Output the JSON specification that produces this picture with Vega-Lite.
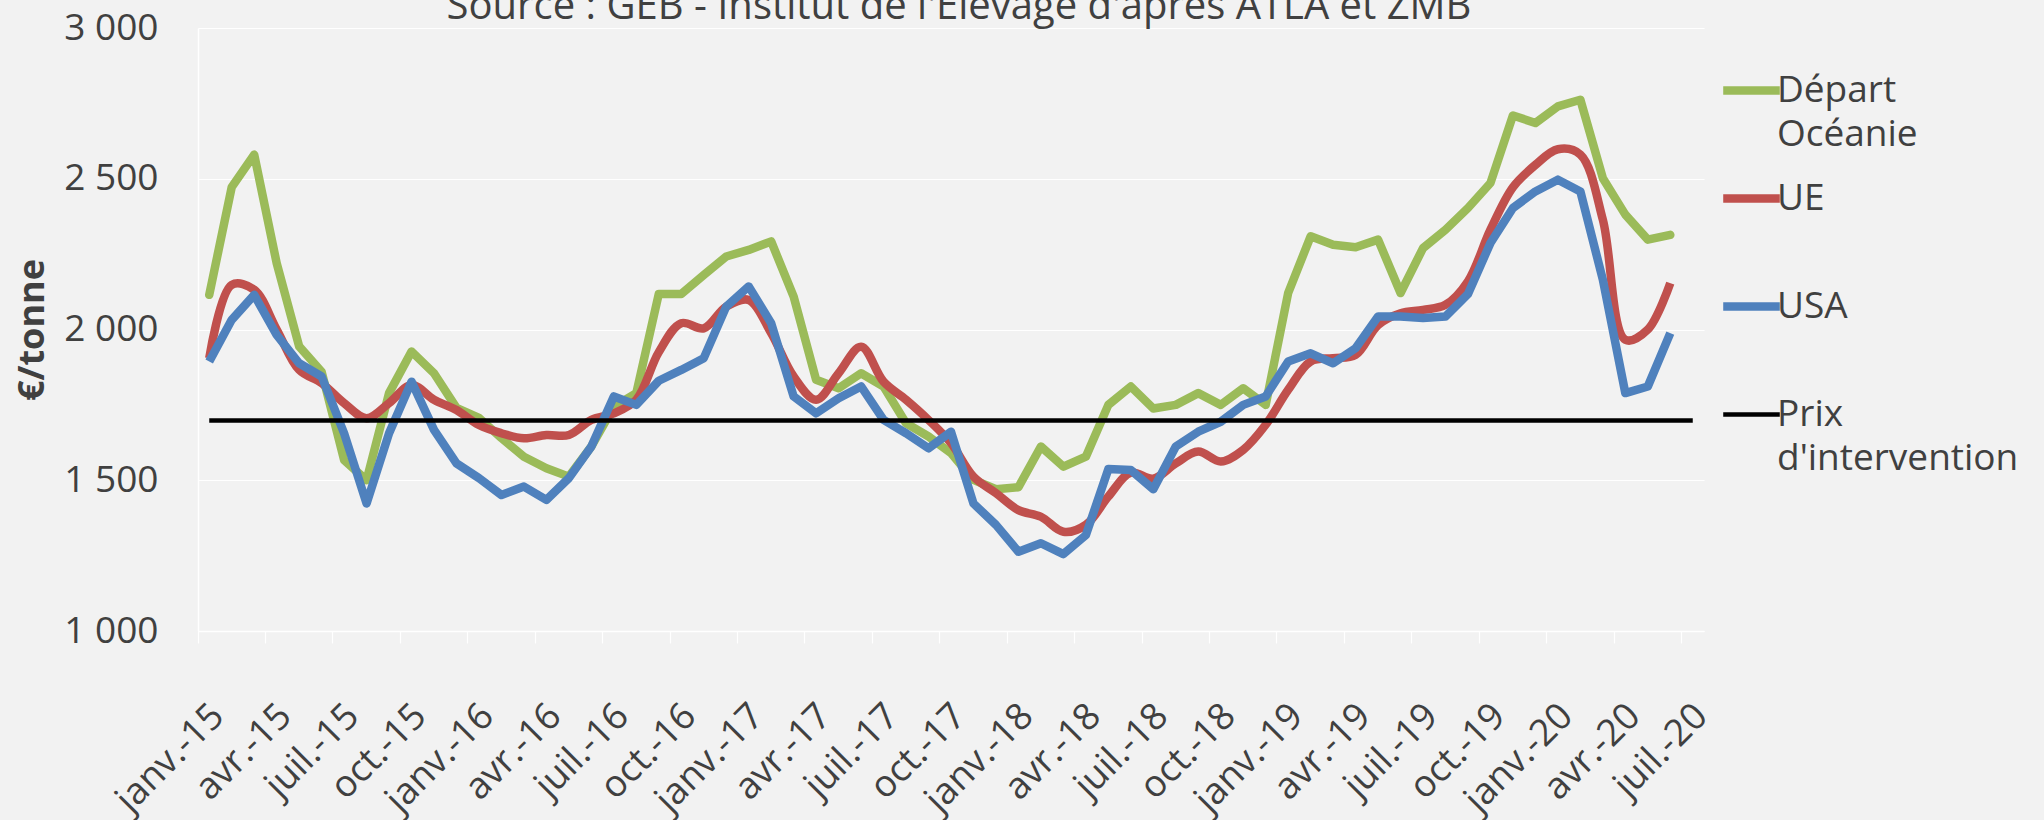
{
"$schema": "https://vega.github.io/schema/vega-lite/v6.json",
"width": 1506, "height": 603,
"autosize": {"type": "none"},
"padding": {"left": 198, "top": 28, "right": 340, "bottom": 189},
"background": "#F2F2F2",
"title": {"text": "Source : GEB - Institut de l'Elevage d'après  ATLA et ZMB", "anchor": "middle", "frame": "group", "fontSize": 40, "font": "Open Sans", "fontWeight": "normal", "color": "#404040", "baseline": "alphabetic", "offset": 6, "dx": 8, "dy": 56},
"config": {"view": {"stroke": null}, "font": "Open Sans"},
"data": {"values": [
{"mois":"janv.-15","serie":"Départ Océanie","prix":2115},{"mois":"févr.-15","serie":"Départ Océanie","prix":2472},{"mois":"mars-15","serie":"Départ Océanie","prix":2580},{"mois":"avr.-15","serie":"Départ Océanie","prix":2220},{"mois":"mai-15","serie":"Départ Océanie","prix":1944},{"mois":"juin-15","serie":"Départ Océanie","prix":1860},{"mois":"juil.-15","serie":"Départ Océanie","prix":1567},{"mois":"août-15","serie":"Départ Océanie","prix":1500},{"mois":"sept.-15","serie":"Départ Océanie","prix":1789},{"mois":"oct.-15","serie":"Départ Océanie","prix":1927},{"mois":"nov.-15","serie":"Départ Océanie","prix":1855},{"mois":"déc.-15","serie":"Départ Océanie","prix":1740},
{"mois":"janv.-16","serie":"Départ Océanie","prix":1707},{"mois":"févr.-16","serie":"Départ Océanie","prix":1640},{"mois":"mars-16","serie":"Départ Océanie","prix":1578},{"mois":"avr.-16","serie":"Départ Océanie","prix":1540},{"mois":"mai-16","serie":"Départ Océanie","prix":1512},{"mois":"juin-16","serie":"Départ Océanie","prix":1612},{"mois":"juil.-16","serie":"Départ Océanie","prix":1744},{"mois":"août-16","serie":"Départ Océanie","prix":1789},{"mois":"sept.-16","serie":"Départ Océanie","prix":2118},{"mois":"oct.-16","serie":"Départ Océanie","prix":2118},{"mois":"nov.-16","serie":"Départ Océanie","prix":2181},{"mois":"déc.-16","serie":"Départ Océanie","prix":2242},
{"mois":"janv.-17","serie":"Départ Océanie","prix":2264},{"mois":"févr.-17","serie":"Départ Océanie","prix":2292},{"mois":"mars-17","serie":"Départ Océanie","prix":2109},{"mois":"avr.-17","serie":"Départ Océanie","prix":1833},{"mois":"mai-17","serie":"Départ Océanie","prix":1805},{"mois":"juin-17","serie":"Départ Océanie","prix":1855},{"mois":"juil.-17","serie":"Départ Océanie","prix":1811},{"mois":"août-17","serie":"Départ Océanie","prix":1689},{"mois":"sept.-17","serie":"Départ Océanie","prix":1645},{"mois":"oct.-17","serie":"Départ Océanie","prix":1590},{"mois":"nov.-17","serie":"Départ Océanie","prix":1501},{"mois":"déc.-17","serie":"Départ Océanie","prix":1470},
{"mois":"janv.-18","serie":"Départ Océanie","prix":1477},{"mois":"févr.-18","serie":"Départ Océanie","prix":1612},{"mois":"mars-18","serie":"Départ Océanie","prix":1545},{"mois":"avr.-18","serie":"Départ Océanie","prix":1578},{"mois":"mai-18","serie":"Départ Océanie","prix":1750},{"mois":"juin-18","serie":"Départ Océanie","prix":1811},{"mois":"juil.-18","serie":"Départ Océanie","prix":1738},{"mois":"août-18","serie":"Départ Océanie","prix":1750},{"mois":"sept.-18","serie":"Départ Océanie","prix":1789},{"mois":"oct.-18","serie":"Départ Océanie","prix":1750},{"mois":"nov.-18","serie":"Départ Océanie","prix":1805},{"mois":"déc.-18","serie":"Départ Océanie","prix":1750},
{"mois":"janv.-19","serie":"Départ Océanie","prix":2121},{"mois":"févr.-19","serie":"Départ Océanie","prix":2309},{"mois":"mars-19","serie":"Départ Océanie","prix":2281},{"mois":"avr.-19","serie":"Départ Océanie","prix":2273},{"mois":"mai-19","serie":"Départ Océanie","prix":2298},{"mois":"juin-19","serie":"Départ Océanie","prix":2121},{"mois":"juil.-19","serie":"Départ Océanie","prix":2270},{"mois":"août-19","serie":"Départ Océanie","prix":2331},{"mois":"sept.-19","serie":"Départ Océanie","prix":2403},{"mois":"oct.-19","serie":"Départ Océanie","prix":2486},{"mois":"nov.-19","serie":"Départ Océanie","prix":2710},{"mois":"déc.-19","serie":"Départ Océanie","prix":2685},
{"mois":"janv.-20","serie":"Départ Océanie","prix":2740},{"mois":"févr.-20","serie":"Départ Océanie","prix":2762},{"mois":"mars-20","serie":"Départ Océanie","prix":2502},{"mois":"avr.-20","serie":"Départ Océanie","prix":2381},{"mois":"mai-20","serie":"Départ Océanie","prix":2298},{"mois":"juin-20","serie":"Départ Océanie","prix":2314},
{"mois":"janv.-15","serie":"UE","prix":1905},{"mois":"févr.-15","serie":"UE","prix":2148},{"mois":"mars-15","serie":"UE","prix":2132},{"mois":"avr.-15","serie":"UE","prix":2000},{"mois":"mai-15","serie":"UE","prix":1866},{"mois":"juin-15","serie":"UE","prix":1822},{"mois":"juil.-15","serie":"UE","prix":1756},{"mois":"août-15","serie":"UE","prix":1706},{"mois":"sept.-15","serie":"UE","prix":1756},{"mois":"oct.-15","serie":"UE","prix":1816},{"mois":"nov.-15","serie":"UE","prix":1767},{"mois":"déc.-15","serie":"UE","prix":1733},
{"mois":"janv.-16","serie":"UE","prix":1683},{"mois":"févr.-16","serie":"UE","prix":1656},{"mois":"mars-16","serie":"UE","prix":1639},{"mois":"avr.-16","serie":"UE","prix":1650},{"mois":"mai-16","serie":"UE","prix":1650},{"mois":"juin-16","serie":"UE","prix":1700},{"mois":"juil.-16","serie":"UE","prix":1722},{"mois":"août-16","serie":"UE","prix":1767},{"mois":"sept.-16","serie":"UE","prix":1925},{"mois":"oct.-16","serie":"UE","prix":2021},{"mois":"nov.-16","serie":"UE","prix":2004},{"mois":"déc.-16","serie":"UE","prix":2076},
{"mois":"janv.-17","serie":"UE","prix":2098},{"mois":"févr.-17","serie":"UE","prix":1988},{"mois":"mars-17","serie":"UE","prix":1844},{"mois":"avr.-17","serie":"UE","prix":1767},{"mois":"mai-17","serie":"UE","prix":1855},{"mois":"juin-17","serie":"UE","prix":1943},{"mois":"juil.-17","serie":"UE","prix":1827},{"mois":"août-17","serie":"UE","prix":1767},{"mois":"sept.-17","serie":"UE","prix":1700},{"mois":"oct.-17","serie":"UE","prix":1623},{"mois":"nov.-17","serie":"UE","prix":1512},{"mois":"déc.-17","serie":"UE","prix":1457},
{"mois":"janv.-18","serie":"UE","prix":1401},{"mois":"févr.-18","serie":"UE","prix":1379},{"mois":"mars-18","serie":"UE","prix":1329},{"mois":"avr.-18","serie":"UE","prix":1352},{"mois":"mai-18","serie":"UE","prix":1446},{"mois":"juin-18","serie":"UE","prix":1525},{"mois":"juil.-18","serie":"UE","prix":1505},{"mois":"août-18","serie":"UE","prix":1556},{"mois":"sept.-18","serie":"UE","prix":1595},{"mois":"oct.-18","serie":"UE","prix":1562},{"mois":"nov.-18","serie":"UE","prix":1601},{"mois":"déc.-18","serie":"UE","prix":1684},
{"mois":"janv.-19","serie":"UE","prix":1800},{"mois":"févr.-19","serie":"UE","prix":1894},{"mois":"mars-19","serie":"UE","prix":1905},{"mois":"avr.-19","serie":"UE","prix":1916},{"mois":"mai-19","serie":"UE","prix":2015},{"mois":"juin-19","serie":"UE","prix":2054},{"mois":"juil.-19","serie":"UE","prix":2065},{"mois":"août-19","serie":"UE","prix":2082},{"mois":"sept.-19","serie":"UE","prix":2160},{"mois":"oct.-19","serie":"UE","prix":2331},{"mois":"nov.-19","serie":"UE","prix":2472},{"mois":"déc.-19","serie":"UE","prix":2546},
{"mois":"janv.-20","serie":"UE","prix":2598},{"mois":"févr.-20","serie":"UE","prix":2580},{"mois":"mars-20","serie":"UE","prix":2364},{"mois":"avr.-20","serie":"UE","prix":1966},{"mois":"mai-20","serie":"UE","prix":2000},{"mois":"juin-20","serie":"UE","prix":2154},
{"mois":"janv.-15","serie":"USA","prix":1894},{"mois":"févr.-15","serie":"USA","prix":2032},{"mois":"mars-15","serie":"USA","prix":2115},{"mois":"avr.-15","serie":"USA","prix":1982},{"mois":"mai-15","serie":"USA","prix":1888},{"mois":"juin-15","serie":"USA","prix":1844},{"mois":"juil.-15","serie":"USA","prix":1656},{"mois":"août-15","serie":"USA","prix":1423},{"mois":"sept.-15","serie":"USA","prix":1656},{"mois":"oct.-15","serie":"USA","prix":1827},{"mois":"nov.-15","serie":"USA","prix":1667},{"mois":"déc.-15","serie":"USA","prix":1556},
{"mois":"janv.-16","serie":"USA","prix":1507},{"mois":"févr.-16","serie":"USA","prix":1451},{"mois":"mars-16","serie":"USA","prix":1479},{"mois":"avr.-16","serie":"USA","prix":1435},{"mois":"mai-16","serie":"USA","prix":1507},{"mois":"juin-16","serie":"USA","prix":1612},{"mois":"juil.-16","serie":"USA","prix":1778},{"mois":"août-16","serie":"USA","prix":1750},{"mois":"sept.-16","serie":"USA","prix":1830},{"mois":"oct.-16","serie":"USA","prix":1866},{"mois":"nov.-16","serie":"USA","prix":1905},{"mois":"déc.-16","serie":"USA","prix":2076},
{"mois":"janv.-17","serie":"USA","prix":2143},{"mois":"févr.-17","serie":"USA","prix":2021},{"mois":"mars-17","serie":"USA","prix":1778},{"mois":"avr.-17","serie":"USA","prix":1722},{"mois":"mai-17","serie":"USA","prix":1772},{"mois":"juin-17","serie":"USA","prix":1811},{"mois":"juil.-17","serie":"USA","prix":1700},{"mois":"août-17","serie":"USA","prix":1656},{"mois":"sept.-17","serie":"USA","prix":1606},{"mois":"oct.-17","serie":"USA","prix":1661},{"mois":"nov.-17","serie":"USA","prix":1423},{"mois":"déc.-17","serie":"USA","prix":1352},
{"mois":"janv.-18","serie":"USA","prix":1263},{"mois":"févr.-18","serie":"USA","prix":1291},{"mois":"mars-18","serie":"USA","prix":1255},{"mois":"avr.-18","serie":"USA","prix":1318},{"mois":"mai-18","serie":"USA","prix":1537},{"mois":"juin-18","serie":"USA","prix":1534},{"mois":"juil.-18","serie":"USA","prix":1470},{"mois":"août-18","serie":"USA","prix":1612},{"mois":"sept.-18","serie":"USA","prix":1661},{"mois":"oct.-18","serie":"USA","prix":1694},{"mois":"nov.-18","serie":"USA","prix":1750},{"mois":"déc.-18","serie":"USA","prix":1778},
{"mois":"janv.-19","serie":"USA","prix":1894},{"mois":"févr.-19","serie":"USA","prix":1921},{"mois":"mars-19","serie":"USA","prix":1888},{"mois":"avr.-19","serie":"USA","prix":1938},{"mois":"mai-19","serie":"USA","prix":2043},{"mois":"juin-19","serie":"USA","prix":2043},{"mois":"juil.-19","serie":"USA","prix":2038},{"mois":"août-19","serie":"USA","prix":2043},{"mois":"sept.-19","serie":"USA","prix":2118},{"mois":"oct.-19","serie":"USA","prix":2287},{"mois":"nov.-19","serie":"USA","prix":2403},{"mois":"déc.-19","serie":"USA","prix":2458},
{"mois":"janv.-20","serie":"USA","prix":2497},{"mois":"févr.-20","serie":"USA","prix":2458},{"mois":"mars-20","serie":"USA","prix":2165},{"mois":"avr.-20","serie":"USA","prix":1789},{"mois":"mai-20","serie":"USA","prix":1811},{"mois":"juin-20","serie":"USA","prix":1988},
{"mois":"janv.-15","serie":"Prix d'intervention","prix":1698},{"mois":"févr.-15","serie":"Prix d'intervention","prix":1698},{"mois":"mars-15","serie":"Prix d'intervention","prix":1698},{"mois":"avr.-15","serie":"Prix d'intervention","prix":1698},{"mois":"mai-15","serie":"Prix d'intervention","prix":1698},{"mois":"juin-15","serie":"Prix d'intervention","prix":1698},{"mois":"juil.-15","serie":"Prix d'intervention","prix":1698},{"mois":"août-15","serie":"Prix d'intervention","prix":1698},{"mois":"sept.-15","serie":"Prix d'intervention","prix":1698},{"mois":"oct.-15","serie":"Prix d'intervention","prix":1698},{"mois":"nov.-15","serie":"Prix d'intervention","prix":1698},{"mois":"déc.-15","serie":"Prix d'intervention","prix":1698},
{"mois":"janv.-16","serie":"Prix d'intervention","prix":1698},{"mois":"févr.-16","serie":"Prix d'intervention","prix":1698},{"mois":"mars-16","serie":"Prix d'intervention","prix":1698},{"mois":"avr.-16","serie":"Prix d'intervention","prix":1698},{"mois":"mai-16","serie":"Prix d'intervention","prix":1698},{"mois":"juin-16","serie":"Prix d'intervention","prix":1698},{"mois":"juil.-16","serie":"Prix d'intervention","prix":1698},{"mois":"août-16","serie":"Prix d'intervention","prix":1698},{"mois":"sept.-16","serie":"Prix d'intervention","prix":1698},{"mois":"oct.-16","serie":"Prix d'intervention","prix":1698},{"mois":"nov.-16","serie":"Prix d'intervention","prix":1698},{"mois":"déc.-16","serie":"Prix d'intervention","prix":1698},
{"mois":"janv.-17","serie":"Prix d'intervention","prix":1698},{"mois":"févr.-17","serie":"Prix d'intervention","prix":1698},{"mois":"mars-17","serie":"Prix d'intervention","prix":1698},{"mois":"avr.-17","serie":"Prix d'intervention","prix":1698},{"mois":"mai-17","serie":"Prix d'intervention","prix":1698},{"mois":"juin-17","serie":"Prix d'intervention","prix":1698},{"mois":"juil.-17","serie":"Prix d'intervention","prix":1698},{"mois":"août-17","serie":"Prix d'intervention","prix":1698},{"mois":"sept.-17","serie":"Prix d'intervention","prix":1698},{"mois":"oct.-17","serie":"Prix d'intervention","prix":1698},{"mois":"nov.-17","serie":"Prix d'intervention","prix":1698},{"mois":"déc.-17","serie":"Prix d'intervention","prix":1698},
{"mois":"janv.-18","serie":"Prix d'intervention","prix":1698},{"mois":"févr.-18","serie":"Prix d'intervention","prix":1698},{"mois":"mars-18","serie":"Prix d'intervention","prix":1698},{"mois":"avr.-18","serie":"Prix d'intervention","prix":1698},{"mois":"mai-18","serie":"Prix d'intervention","prix":1698},{"mois":"juin-18","serie":"Prix d'intervention","prix":1698},{"mois":"juil.-18","serie":"Prix d'intervention","prix":1698},{"mois":"août-18","serie":"Prix d'intervention","prix":1698},{"mois":"sept.-18","serie":"Prix d'intervention","prix":1698},{"mois":"oct.-18","serie":"Prix d'intervention","prix":1698},{"mois":"nov.-18","serie":"Prix d'intervention","prix":1698},{"mois":"déc.-18","serie":"Prix d'intervention","prix":1698},
{"mois":"janv.-19","serie":"Prix d'intervention","prix":1698},{"mois":"févr.-19","serie":"Prix d'intervention","prix":1698},{"mois":"mars-19","serie":"Prix d'intervention","prix":1698},{"mois":"avr.-19","serie":"Prix d'intervention","prix":1698},{"mois":"mai-19","serie":"Prix d'intervention","prix":1698},{"mois":"juin-19","serie":"Prix d'intervention","prix":1698},{"mois":"juil.-19","serie":"Prix d'intervention","prix":1698},{"mois":"août-19","serie":"Prix d'intervention","prix":1698},{"mois":"sept.-19","serie":"Prix d'intervention","prix":1698},{"mois":"oct.-19","serie":"Prix d'intervention","prix":1698},{"mois":"nov.-19","serie":"Prix d'intervention","prix":1698},{"mois":"déc.-19","serie":"Prix d'intervention","prix":1698},
{"mois":"janv.-20","serie":"Prix d'intervention","prix":1698},{"mois":"févr.-20","serie":"Prix d'intervention","prix":1698},{"mois":"mars-20","serie":"Prix d'intervention","prix":1698},{"mois":"avr.-20","serie":"Prix d'intervention","prix":1698},{"mois":"mai-20","serie":"Prix d'intervention","prix":1698},{"mois":"juin-20","serie":"Prix d'intervention","prix":1698},{"mois":"juil.-20","serie":"Prix d'intervention","prix":1698}
]},
"encoding": {
  "x": {"field": "mois", "type": "ordinal", "bandPosition": 0.5,
    "scale": {"type": "band", "paddingInner": 0, "paddingOuter": 0, "domain": ["janv.-15","févr.-15","mars-15","avr.-15","mai-15","juin-15","juil.-15","août-15","sept.-15","oct.-15","nov.-15","déc.-15","janv.-16","févr.-16","mars-16","avr.-16","mai-16","juin-16","juil.-16","août-16","sept.-16","oct.-16","nov.-16","déc.-16","janv.-17","févr.-17","mars-17","avr.-17","mai-17","juin-17","juil.-17","août-17","sept.-17","oct.-17","nov.-17","déc.-17","janv.-18","févr.-18","mars-18","avr.-18","mai-18","juin-18","juil.-18","août-18","sept.-18","oct.-18","nov.-18","déc.-18","janv.-19","févr.-19","mars-19","avr.-19","mai-19","juin-19","juil.-19","août-19","sept.-19","oct.-19","nov.-19","déc.-19","janv.-20","févr.-20","mars-20","avr.-20","mai-20","juin-20","juil.-20"]},
    "axis": {"title": null, "values": ["janv.-15","avr.-15","juil.-15","oct.-15","janv.-16","avr.-16","juil.-16","oct.-16","janv.-17","avr.-17","juil.-17","oct.-17","janv.-18","avr.-18","juil.-18","oct.-18","janv.-19","avr.-19","juil.-19","oct.-19","janv.-20","avr.-20","juil.-20"],
      "bandPosition": 0, "labelOffset": 9, "labelAngle": -45, "labelAlign": "right", "labelBaseline": "middle", "labelPadding": 67, "tickSize": 12, "tickColor": "#FFFFFF", "tickWidth": 1.2, "domainColor": "#FFFFFF", "domainWidth": 1.5, "labelFontSize": 37, "labelColor": "#404040", "labelFont": "Open Sans", "grid": false, "labelOverlap": false, "labelBound": false, "labelFlush": false, "labelLimit": 400}},
  "y": {"field": "prix", "type": "quantitative", "scale": {"domain": [1000, 3000], "nice": false, "zero": false},
    "axis": {"values": [1000, 1500, 2000, 2500, 3000], "labelExpr": "replace(format(datum.value, ','), ',', ' ')", "title": "€/tonne", "titleFontSize": 36, "titleFontWeight": "bold", "titleColor": "#404040", "titleFont": "Open Sans", "titlePadding": 12, "labelFontSize": 37, "labelColor": "#404040", "labelFont": "Open Sans", "labelPadding": 40, "ticks": false, "tickSize": 0, "domainColor": "#FFFFFF", "domainWidth": 1.5, "grid": true, "gridColor": "#FFFFFF", "gridWidth": 1.2}},
  "color": {"field": "serie", "type": "nominal",
    "scale": {"domain": ["Départ Océanie", "UE", "USA", "Prix d'intervention"], "range": ["#9BBB59", "#C0504D", "#4F81BD", "#000000"]},
    "legend": {"title": null, "orient": "none", "legendX": 1535, "legendY": 44, "padding": 0, "gridAlign": "all", "labelFontSize": 37, "labelColor": "#404040", "labelFont": "Open Sans", "symbolType": "stroke", "symbolSize": 3200, "symbolStrokeWidth": 8.5, "labelOffset": 7, "rowPadding": 26, "labelLimit": 400,
      "labelExpr": "test(/^Départ/, datum.label) ? ['Départ', 'Océanie'] : test(/^Prix/, datum.label) ? [\"Prix\", \"d'intervention\"] : datum.label",
      "encode": {"symbols": {"update": {"strokeWidth": {"signal": "test(/^Prix/, datum.value) ? 4.5 : 8.5"}}}, "labels": {"update": {"lineHeight": {"value": 44}}}}}}
},
"layer": [
  {"transform": [{"filter": "datum.serie === 'Départ Océanie'"}], "mark": {"type": "line", "strokeWidth": 8.5, "strokeCap": "round", "strokeJoin": "round"}},
  {"transform": [{"filter": "datum.serie === 'UE'"}], "mark": {"type": "line", "strokeWidth": 8.5, "interpolate": "catmull-rom", "strokeJoin": "round"}},
  {"transform": [{"filter": "datum.serie === 'USA'"}], "mark": {"type": "line", "strokeWidth": 8.5, "strokeJoin": "round"}},
  {"transform": [{"filter": "test(/^Prix/, datum.serie)"}], "mark": {"type": "line", "strokeWidth": 4.5}}
]
}
